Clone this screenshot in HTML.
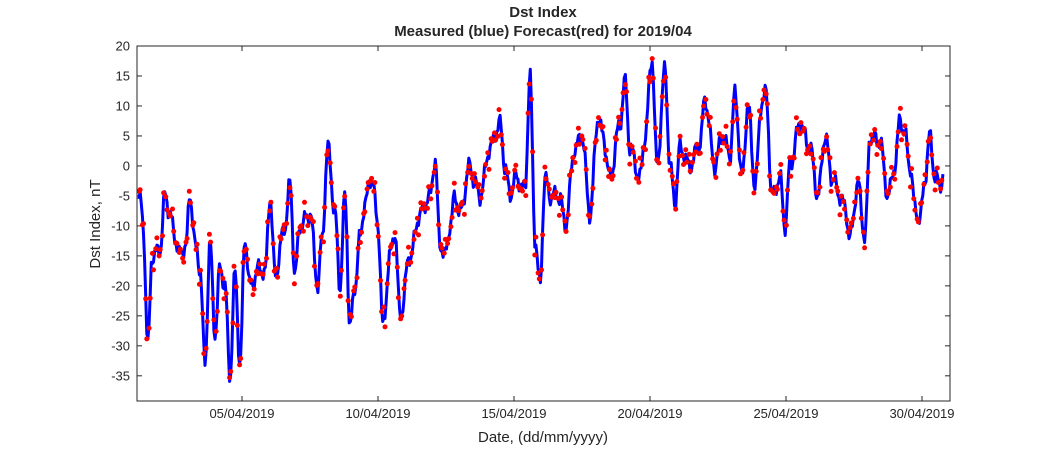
<!DOCTYPE html>
<html><head><meta charset="utf-8"><style>
html,body{margin:0;padding:0;background:#fff;}
svg text{font-family:"Liberation Sans",sans-serif;fill:#262626;}
</style></head><body>
<svg id="s" width="1050" height="450" xmlns="http://www.w3.org/2000/svg">
<rect width="1050" height="450" fill="#fff"/>
<text x="543" y="17" font-size="15" font-weight="bold" text-anchor="middle" fill="#000">Dst Index</text>
<text x="543" y="36" font-size="15" font-weight="bold" text-anchor="middle" fill="#000">Measured (blue) Forecast(red) for 2019/04</text>
<text x="543" y="442" font-size="15" text-anchor="middle">Date, (dd/mm/yyyy)</text>
<text transform="translate(100,224) rotate(-90)" font-size="15" text-anchor="middle">Dst Index, nT</text>
<g id="ax"></g>
<g id="plot"></g>
<rect x="137" y="46" width="813" height="355" fill="none" stroke="#262626" stroke-width="1"/>
</svg>
<script>
var L=137,R=950,T=46,B=401,ymin=-39.2,ymax=20;
function Y(v){return T+(ymax-v)/(ymax-ymin)*(B-T);}
var ax=document.getElementById('ax'),h='';
for(var v=20;v>=-35;v-=5){var y=Y(v);h+='<line x1="137" x2="142" y1="'+y+'" y2="'+y+'" stroke="#262626"/><line x1="945" x2="950" y1="'+y+'" y2="'+y+'" stroke="#262626"/><text x="130" y="'+(y+4.5)+'" font-size="13" text-anchor="end">'+v+'</text>';}
var xs=[242,378,514,650,786,922],lb=['05/04/2019','10/04/2019','15/04/2019','20/04/2019','25/04/2019','30/04/2019'];
for(var i=0;i<6;i++){h+='<line x1="'+xs[i]+'" x2="'+xs[i]+'" y1="401" y2="396" stroke="#262626"/><line x1="'+xs[i]+'" x2="'+xs[i]+'" y1="46" y2="51" stroke="#262626"/><text x="'+xs[i]+'" y="418" font-size="13" text-anchor="middle">'+lb[i]+'</text>';}
ax.innerHTML=h;
var cp=[137,-9,140,-5,143,-10,148,-30,152,-15,160,-14,165,-5,170,-8,175,-12,180,-15,186,-13,190,-5,196,-14,200,-17,205,-33,210,-13,215,-28,220,-17,225,-20,230,-35,235,-18,240,-33,245,-12,250,-20,260,-17,265,-18,270,-5,275,-18,285,-10,290,-3,295,-18,300,-10,310,-8,318,-20,322,-12,328,3,335,-8,340,-20,345,-5,350,-27,355,-20,360,-12,365,-6,372,-2,378,-10,383,-27,390,-15,395,-11,400,-25,410,-15,420,-8,430,-5,435,1,440,-13,445,-15,450,-10,455,-5,460,-8,470,0,475,-3,480,-5,490,3,500,7,505,0,510,-5,515,-2,525,-4,530,15,535,-12,540,-20,545,-2,550,-5,560,-5,565,-10,575,3,582,5,590,-8,598,8,603,5,610,-2,620,7,625,14,630,3,640,-2,645,5,652,18,657,0,665,16,670,0,675,-6,680,3,690,0,700,4,705,11,715,0,722,5,730,2,735,12,742,-2,748,10,755,-3,762,11,766,12,772,-5,780,-2,785,-10,790,0,800,7,810,3,818,-5,825,5,832,-2,840,-5,845,-7,850,-12,858,-3,865,-12,870,5,880,4,888,-5,895,0,900,8,905,5,910,0,915,-7,920,-9,925,-2,930,5,935,-2,940,-3,945,-1];
function interp(x){for(var i=0;i<cp.length-2;i+=2){if(x<=cp[i+2]){var t=(x-cp[i])/(cp[i+2]-cp[i]);t=(1-Math.cos(Math.PI*t))/2;return cp[i+1]+(cp[i+3]-cp[i+1])*t;}}return cp[cp.length-1];}
var pts=[],n=720,d='';
for(var k=0;k<n;k++){var x=L+2+k*(942-L)/n;var v=interp(x)+1.1*Math.sin(k*0.9)+0.6*Math.sin(k*2.3+1);pts.push([x,v]);d+=(k?'L':'M')+x.toFixed(1)+','+Y(v).toFixed(1);}
var g='<path d="'+d+'" fill="none" stroke="#0000ff" stroke-width="3" stroke-linejoin="round"/>';
for(var k=0;k<n;k+=1){if(k%3==2)continue;var p=pts[k];var o=1.2*Math.sin(k*1.7+0.5)+0.7*Math.cos(k*3.1);g+='<circle cx="'+p[0].toFixed(1)+'" cy="'+Y(p[1]+o).toFixed(1)+'" r="2.5" fill="#ff0000"/>';}
document.getElementById('plot').innerHTML=g;
</script>
</body></html>
